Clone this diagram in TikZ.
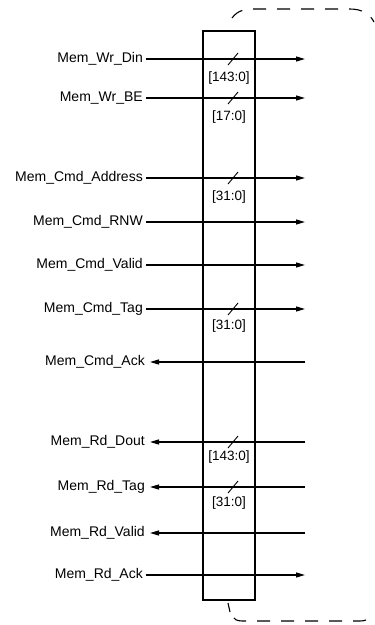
\documentclass[tikz,border=0pt]{standalone}
\usepackage{fontspec}
\setmainfont{Liberation Sans}
\usetikzlibrary{arrows.meta,calc}

\begin{document}
\begin{tikzpicture}[x = 1pt, y = -1pt,
        sig/.style = {anchor = east, inner sep = 3pt, font = \fontsize{14}{16}\selectfont},
        bits/.style = {inner sep = 0pt, font = \fontsize{13.5}{15}\selectfont},
        wire/.style = {line width = 1.3pt},
        tip/.style = {-{Triangle[length = 9pt, width = 5pt]}},
        brace/.style = {line width = 1.1pt, dash pattern = on 13pt off 11pt}]
        \useasboundingbox(0,0)rectangle(375,625);
        % interface box
        \coordinate(bx1)at(203,31);
        \coordinate(bx2)at(255,600);
        \path[draw, line width = 1.3pt](bx1)rectangle(bx2);
        % dashed outline (top / bottom)
        \path[draw, brace](232,18) .. controls (238,10) and (245,9) .. (256,9)
            -- (350,9) .. controls (362,9) and (370,14) .. (374,22);
        \path[draw, line width = 1.1pt](228,603) .. controls (229,607) .. (230,612);
        \path[draw, brace](234,618) .. controls (236,621) and (240,621) .. (246,621)
            -- (360,621) .. controls (366,621) and (369,619) .. (371,616);
        % write data
        \node[sig](wrdin)at(146,59){Mem\_Wr\_Din};
        \coordinate(wrdin-e)at(305,59);
        \path[draw, wire, tip](wrdin.east)to(wrdin-e);
        \path[draw, line width = 0.9pt](228,65)to(238,53);
        \node[bits](wrdin-b)at(229,78){[143:0]};
        \node[sig](wrbe)at(146,98){Mem\_Wr\_BE};
        \coordinate(wrbe-e)at(305,98);
        \path[draw, wire, tip](wrbe.east)to(wrbe-e);
        \path[draw, line width = 0.9pt](228,104)to(238,92);
        \node[bits](wrbe-b)at(229,117){[17:0]};
        % command
        \node[sig](cmdaddr)at(146,178){Mem\_Cmd\_Address};
        \coordinate(cmdaddr-e)at(305,178);
        \path[draw, wire, tip](cmdaddr.east)to(cmdaddr-e);
        \path[draw, line width = 0.9pt](228,184)to(238,172);
        \node[bits](cmdaddr-b)at(229,197){[31:0]};
        \node[sig](cmdrnw)at(146,222){Mem\_Cmd\_RNW};
        \coordinate(cmdrnw-e)at(305,222);
        \path[draw, wire, tip](cmdrnw.east)to(cmdrnw-e);
        \node[sig](cmdvalid)at(146,265){Mem\_Cmd\_Valid};
        \coordinate(cmdvalid-e)at(305,265);
        \path[draw, wire, tip](cmdvalid.east)to(cmdvalid-e);
        \node[sig](cmdtag)at(146,309){Mem\_Cmd\_Tag};
        \coordinate(cmdtag-e)at(305,309);
        \path[draw, wire, tip](cmdtag.east)to(cmdtag-e);
        \path[draw, line width = 0.9pt](228,315)to(238,303);
        \node[bits](cmdtag-b)at(229,326){[31:0]};
        \node[sig, inner sep = 5pt](cmdack)at(150,362){Mem\_Cmd\_Ack};
        \coordinate(cmdack-e)at(305,362);
        \path[draw, wire, tip](cmdack-e)to(cmdack.east);
        % read data
        \node[sig, inner sep = 5pt](rddout)at(150,442){Mem\_Rd\_Dout};
        \coordinate(rddout-e)at(305,442);
        \path[draw, wire, tip](rddout-e)to(rddout.east);
        \path[draw, line width = 0.9pt](228,448)to(238,436);
        \node[bits](rddout-b)at(229,457){[143:0]};
        \node[sig, inner sep = 5pt](rdtag)at(150,487){Mem\_Rd\_Tag};
        \coordinate(rdtag-e)at(305,487);
        \path[draw, wire, tip](rdtag-e)to(rdtag.east);
        \path[draw, line width = 0.9pt](228,493)to(238,481);
        \node[bits](rdtag-b)at(229,503){[31:0]};
        \node[sig, inner sep = 5pt](rdvalid)at(150,533){Mem\_Rd\_Valid};
        \coordinate(rdvalid-e)at(305,533);
        \path[draw, wire, tip](rdvalid-e)to(rdvalid.east);
        \node[sig](rdack)at(146,575){Mem\_Rd\_Ack};
        \coordinate(rdack-e)at(305,575);
        \path[draw, wire, tip](rdack.east)to(rdack-e);
    \end{tikzpicture}
\end{document}
